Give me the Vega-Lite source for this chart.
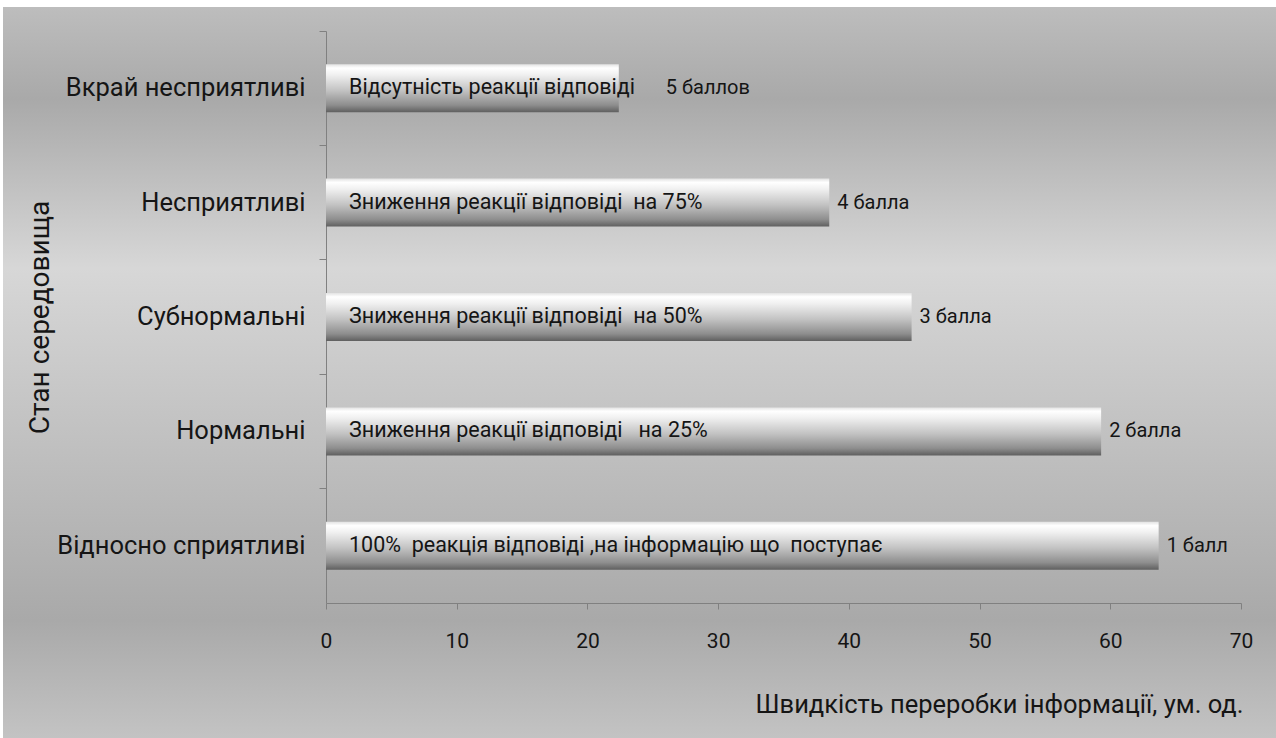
{
  "$schema": "https://vega.github.io/schema/vega-lite/v6.json",
  "width": 1273,
  "height": 731,
  "autosize": {"type": "none"},
  "padding": {"left": 3, "top": 7, "right": 0, "bottom": 0},
  "background": "#ffffff",
  "view": {
    "stroke": null,
    "fill": {
      "gradient": "linear",
      "x1": 0, "y1": 0, "x2": 0, "y2": 1,
      "stops": [
        {"offset": 0, "color": "#bdbdbd"},
        {"offset": 0.126, "color": "#a9a9a9"},
        {"offset": 0.357, "color": "#d7d7d7"},
        {"offset": 0.839, "color": "#a9a9a9"},
        {"offset": 1, "color": "#c3c3c3"}
      ]
    }
  },
  "config": {
    "font": "Roboto",
    "text": {"font": "Roboto", "color": "#151515"}
  },
  "data": {
    "values": [
      {"state": "Вкрай несприятливі", "speed": 22.4, "response": "Відсутність реакції відповіді", "score": "5 баллов"},
      {"state": "Несприятливі", "speed": 38.5, "response": "Зниження реакції відповіді\u00a0 на 75%", "score": "4 балла"},
      {"state": "Субнормальні", "speed": 44.8, "response": "Зниження реакції відповіді\u00a0 на 50%", "score": "3 балла"},
      {"state": "Нормальні", "speed": 59.3, "response": "Зниження реакції відповіді\u00a0\u00a0 на 25%", "score": "2 балла"},
      {"state": "Відносно сприятливі", "speed": 63.7, "response": "100%\u00a0 реакція відповіді ,на інформацію що\u00a0 поступає", "score": "1 балл"}
    ]
  },
  "encoding": {
    "y": {
      "field": "state",
      "type": "nominal",
      "sort": ["Вкрай несприятливі", "Несприятливі", "Субнормальні", "Нормальні", "Відносно сприятливі"],
      "scale": {"range": [24, 596], "paddingInner": 0.58, "paddingOuter": 0.29},
      "axis": {
        "orient": "left",
        "offset": -323,
        "title": "Стан середовища",
        "titleFont": "Roboto",
        "titleFontSize": 28,
        "titleFontWeight": "normal",
        "titleColor": "#151515",
        "titleX": -286,
        "titleY": 310,
        "titleAngle": -90,
        "titleAlign": "center",
        "titleBaseline": "middle",
        "labelFont": "Roboto",
        "labelFontSize": 25.5,
        "labelColor": "#151515",
        "labelPadding": 14,
        "labelLimit": 400,
        "bandPosition": -0.69,
        "tickSize": 7,
        "tickColor": "#808080",
        "domainColor": "#808080",
        "grid": false
      }
    }
  },
  "layer": [
    {
      "mark": {
        "type": "bar",
        "color": {
          "gradient": "linear",
          "x1": 0, "y1": 0, "x2": 0, "y2": 1,
          "stops": [
            {"offset": 0, "color": "#e2e2e2"},
            {"offset": 0.08, "color": "#ffffff"},
            {"offset": 0.22, "color": "#f0f0f0"},
            {"offset": 0.55, "color": "#c2c2c2"},
            {"offset": 0.85, "color": "#8e8e8e"},
            {"offset": 1, "color": "#5f5f5f"}
          ]
        }
      },
      "encoding": {
        "x": {
          "field": "speed",
          "type": "quantitative",
          "scale": {"domain": [0, 70], "range": [323, 1238], "nice": false, "zero": true},
          "axis": {
            "orient": "bottom",
            "offset": -135,
            "values": [0, 10, 20, 30, 40, 50, 60, 70],
            "title": "Швидкість переробки інформації, ум. од.",
            "titleFont": "Roboto",
            "titleFontSize": 25.5,
            "titleFontWeight": "normal",
            "titleColor": "#151515",
            "titleX": 1240,
            "titleY": 101,
            "titleAlign": "right",
            "titleBaseline": "middle",
            "labelFont": "Roboto",
            "labelFontSize": 21,
            "labelColor": "#151515",
            "labelPadding": 21,
            "labelFlush": false,
            "tickSize": 6,
            "tickColor": "#808080",
            "domainColor": "#808080",
            "grid": false
          }
        }
      }
    },
    {
      "mark": {"type": "text", "align": "left", "baseline": "middle", "dx": 23, "fontSize": 21.5},
      "encoding": {
        "x": {"datum": 0, "type": "quantitative"},
        "text": {"field": "response"}
      }
    },
    {
      "transform": [{"filter": "datum.speed >= 30"}],
      "mark": {"type": "text", "align": "left", "baseline": "middle", "dx": 8, "fontSize": 20},
      "encoding": {
        "x": {"field": "speed", "type": "quantitative"},
        "text": {"field": "score"}
      }
    },
    {
      "transform": [{"filter": "datum.speed < 30"}],
      "mark": {"type": "text", "align": "left", "baseline": "middle", "dx": 47, "fontSize": 20},
      "encoding": {
        "x": {"field": "speed", "type": "quantitative"},
        "text": {"field": "score"}
      }
    }
  ]
}
